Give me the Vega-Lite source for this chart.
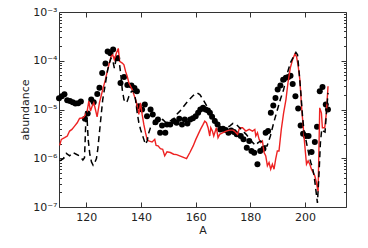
{
"$schema": "https://vega.github.io/schema/vega-lite/v6.json",
"width": 287, "height": 195,
"autosize": {"type": "none"},
"padding": {"left": 59, "top": 12, "right": 22, "bottom": 41},
"background": "white",
"config": {
 "view": {"stroke": "#333", "strokeWidth": 1},
 "axis": {"labelFont": "DejaVu Sans", "titleFont": "DejaVu Sans", "labelFontSize": 11, "titleFontSize": 11, "titleFontWeight": "normal", "labelColor": "#222", "titleColor": "#222", "grid": false, "domain": false, "tickColor": "#333", "tickWidth": 1}
},
"datasets": {
 "dots": [
{"A":110,"v":1.70e-5},{"A":111,"v":1.87e-5},{"A":112,"v":2.06e-5},{"A":113,"v":1.55e-5},{"A":114,"v":1.50e-5},{"A":115,"v":1.41e-5},{"A":116,"v":1.33e-5},{"A":117,"v":1.35e-5},{"A":118,"v":1.46e-5},{"A":119.5,"v":6.45e-6},{"A":120.5,"v":8.3e-6},{"A":121.8,"v":1.60e-5},{"A":122.7,"v":1.41e-5},{"A":124,"v":2.09e-5},{"A":124.8,"v":2.81e-5},{"A":125.8,"v":5.6e-5},{"A":127,"v":8.8e-5},{"A":127.8,"v":1.55e-4},{"A":128.8,"v":1.43e-4},{"A":129.8,"v":1.70e-4},{"A":131.3,"v":1.13e-4},{"A":132.5,"v":3.5e-5},{"A":133.8,"v":4.64e-5},{"A":135,"v":3.19e-5},{"A":136.5,"v":3.09e-5},{"A":137.6,"v":2.77e-5},{"A":138.5,"v":2.37e-5},{"A":139.2,"v":1.17e-5},{"A":140.4,"v":1.0e-5},{"A":141.4,"v":1.26e-5},{"A":142.2,"v":7.3e-6},{"A":143.5,"v":1.0e-5},{"A":144.3,"v":7.9e-6},{"A":145.3,"v":5.5e-6},{"A":146.2,"v":6.25e-6},{"A":147,"v":3.34e-6},{"A":147.7,"v":4.71e-6},{"A":148.9,"v":3.34e-6},{"A":149.5,"v":4.94e-6},{"A":150.7,"v":4.94e-6},{"A":152,"v":5.78e-6},{"A":153,"v":5.35e-6},{"A":154,"v":6.45e-6},{"A":155,"v":4.94e-6},{"A":156,"v":6.25e-6},{"A":157,"v":5.18e-6},{"A":158,"v":6.25e-6},{"A":159,"v":6.65e-6},{"A":160,"v":7.3e-6},{"A":160.9,"v":8.55e-6},{"A":161.7,"v":1.0e-5},{"A":162.7,"v":1.08e-5},{"A":163.6,"v":1.0e-5},{"A":164.5,"v":9.55e-6},{"A":165.2,"v":8.55e-6},{"A":166,"v":7.08e-6},{"A":167,"v":5.78e-6},{"A":168,"v":4.94e-6},{"A":169,"v":3.91e-6},{"A":170,"v":4.03e-6},{"A":171,"v":3.79e-6},{"A":172,"v":3.34e-6},{"A":173,"v":3.73e-6},{"A":174,"v":3.45e-6},{"A":175,"v":3.09e-6},{"A":176.5,"v":2.86e-6},{"A":177.5,"v":2.44e-6},{"A":178.7,"v":1.65e-6},{"A":179.6,"v":2.26e-6},{"A":180.4,"v":1.41e-6},{"A":181.4,"v":1.30e-6},{"A":182.6,"v":7.55e-7},{"A":183.6,"v":1.41e-6},{"A":184.8,"v":1.57e-6},{"A":185.6,"v":3.34e-6},{"A":186.5,"v":3.61e-6},{"A":187.5,"v":8.55e-6},{"A":188.4,"v":1.21e-5},{"A":189.2,"v":1.73e-5},{"A":190,"v":2.56e-5},{"A":191,"v":3.09e-5},{"A":192,"v":4.10e-5},{"A":193,"v":4.50e-5},{"A":193.9,"v":4.64e-5},{"A":194.7,"v":4.94e-5},{"A":195.5,"v":3.34e-5},{"A":196.5,"v":1.87e-5},{"A":197.5,"v":1.05e-5},{"A":198.4,"v":4.71e-6},{"A":199.3,"v":3.19e-6},{"A":200.3,"v":2.86e-6},{"A":201.3,"v":2.86e-6},{"A":202.4,"v":1.35e-6},{"A":203.6,"v":2.15e-6},{"A":204.4,"v":4.43e-6},{"A":205.4,"v":2.37e-5},{"A":206.4,"v":2.90e-5},{"A":207.6,"v":1.26e-5},{"A":208.4,"v":1.0e-5}
 ],
 "red": [
{"A":110.24,"v":1.84e-6},{"A":110.85,"v":2.44e-6},{"A":112.06,"v":2.64e-6},{"A":113.03,"v":2.86e-6},{"A":113.88,"v":3.61e-6},{"A":114.73,"v":3.91e-6},{"A":115.70,"v":4.57e-6},{"A":116.67,"v":5.35e-6},{"A":117.52,"v":6.55e-6},{"A":118.73,"v":6.76e-6},{"A":119.33,"v":7.31e-6},{"A":120.30,"v":9.25e-6},{"A":120.91,"v":1.48e-5},{"A":121.52,"v":9.25e-6},{"A":122.12,"v":1.17e-5},{"A":122.73,"v":1.37e-5},{"A":123.33,"v":1.0e-5},{"A":123.94,"v":7.08e-6},{"A":124.79,"v":1.37e-5},{"A":125.39,"v":1.87e-5},{"A":126.0,"v":2.56e-5},{"A":126.97,"v":4.09e-5},{"A":127.82,"v":6.55e-5},{"A":128.42,"v":8.95e-5},{"A":129.03,"v":1.22e-4},{"A":129.64,"v":1.32e-4},{"A":130.24,"v":1.05e-4},{"A":130.97,"v":1.43e-4},{"A":131.70,"v":1.79e-4},{"A":132.18,"v":9.68e-5},{"A":133.15,"v":8.95e-5},{"A":133.76,"v":8.28e-5},{"A":134.36,"v":6.05e-5},{"A":134.97,"v":4.79e-5},{"A":135.58,"v":3.50e-5},{"A":136.18,"v":2.99e-5},{"A":136.79,"v":2.56e-5},{"A":137.39,"v":2.02e-5},{"A":138.24,"v":1.48e-5},{"A":139.21,"v":7.91e-6},{"A":139.82,"v":1.37e-5},{"A":140.42,"v":7.91e-6},{"A":141.03,"v":4.94e-6},{"A":141.64,"v":3.34e-6},{"A":142.24,"v":2.44e-6},{"A":142.85,"v":2.26e-6},{"A":144.06,"v":2.15e-6},{"A":145.03,"v":2.44e-6},{"A":145.52,"v":1.84e-6},{"A":146.24,"v":1.79e-6},{"A":147.09,"v":1.57e-6},{"A":147.94,"v":1.53e-6},{"A":148.67,"v":1.12e-6},{"A":149.52,"v":1.35e-6},{"A":150.73,"v":1.31e-6},{"A":151.94,"v":1.21e-6},{"A":153.03,"v":1.19e-6},{"A":154.85,"v":1.08e-6},{"A":156.67,"v":9.84e-7},{"A":157.88,"v":1.31e-6},{"A":159.09,"v":1.79e-6},{"A":160.06,"v":2.44e-6},{"A":160.91,"v":3.09e-6},{"A":161.76,"v":3.91e-6},{"A":162.73,"v":4.94e-6},{"A":163.33,"v":5.78e-6},{"A":163.94,"v":5.35e-6},{"A":164.55,"v":4.23e-6},{"A":165.15,"v":2.86e-6},{"A":165.52,"v":4.23e-6},{"A":166.12,"v":3.61e-6},{"A":166.61,"v":2.86e-6},{"A":167.58,"v":4.23e-6},{"A":168.18,"v":2.64e-6},{"A":168.79,"v":3.09e-6},{"A":170.0,"v":3.34e-6},{"A":171.21,"v":3.61e-6},{"A":172.42,"v":3.78e-6},{"A":173.64,"v":3.78e-6},{"A":174.12,"v":3.61e-6},{"A":175.33,"v":3.09e-6},{"A":176.06,"v":4.23e-6},{"A":177.15,"v":4.23e-6},{"A":178.36,"v":3.61e-6},{"A":179.58,"v":3.91e-6},{"A":180.79,"v":3.61e-6},{"A":181.64,"v":3.91e-6},{"A":182.0,"v":2.86e-6},{"A":182.61,"v":3.34e-6},{"A":183.21,"v":2.44e-6},{"A":183.82,"v":2.09e-6},{"A":184.42,"v":2.26e-6},{"A":185.03,"v":1.31e-6},{"A":185.64,"v":1.12e-6},{"A":186.24,"v":6.98e-7},{"A":186.85,"v":8.17e-7},{"A":187.45,"v":5.97e-7},{"A":188.06,"v":7.55e-7},{"A":188.67,"v":5.97e-7},{"A":189.27,"v":9.55e-7},{"A":189.88,"v":1.41e-6},{"A":190.48,"v":1.41e-6},{"A":191.33,"v":3.91e-6},{"A":192.18,"v":8.55e-6},{"A":193.03,"v":1.60e-5},{"A":193.76,"v":3.50e-5},{"A":194.61,"v":7.08e-5},{"A":195.45,"v":1.05e-4},{"A":196.30,"v":1.37e-4},{"A":196.91,"v":1.22e-4},{"A":197.52,"v":7.66e-5},{"A":198.12,"v":4.09e-5},{"A":198.73,"v":1.17e-5},{"A":199.33,"v":4.57e-6},{"A":199.94,"v":1.79e-6},{"A":200.55,"v":7.55e-7},{"A":201.15,"v":8.83e-7},{"A":201.76,"v":7.55e-7},{"A":202.36,"v":5.97e-7},{"A":202.97,"v":5.09e-7},{"A":203.58,"v":4.36e-7},{"A":204.18,"v":3.18e-7},{"A":204.79,"v":2.06e-7},{"A":205.39,"v":1.08e-5},{"A":206.0,"v":8.55e-6},{"A":206.36,"v":4.23e-6},{"A":207.21,"v":4.23e-6},{"A":207.82,"v":8.55e-6},{"A":208.42,"v":2.99e-5}
 ],
 "dashed": [
{"A":110.24,"v":8.83e-7},{"A":111.58,"v":9.84e-7},{"A":112.67,"v":1.26e-6},{"A":113.88,"v":1.12e-6},{"A":115.09,"v":1.31e-6},{"A":116.30,"v":1.21e-6},{"A":117.52,"v":1.12e-6},{"A":118.73,"v":9.25e-7},{"A":119.33,"v":1.03e-6},{"A":119.58,"v":2.44e-6},{"A":119.94,"v":9.25e-6},{"A":120.30,"v":6.25e-6},{"A":120.67,"v":2.44e-6},{"A":121.27,"v":1.21e-6},{"A":121.88,"v":8.41e-7},{"A":122.48,"v":7.19e-7},{"A":123.09,"v":8.17e-7},{"A":123.70,"v":9.84e-7},{"A":124.18,"v":1.53e-6},{"A":124.79,"v":3.34e-6},{"A":125.39,"v":7.31e-6},{"A":126.0,"v":1.60e-5},{"A":126.61,"v":2.56e-5},{"A":127.21,"v":4.09e-5},{"A":127.82,"v":6.55e-5},{"A":128.42,"v":8.95e-5},{"A":129.03,"v":1.13e-4},{"A":129.64,"v":1.05e-4},{"A":130.24,"v":7.08e-5},{"A":130.97,"v":1.13e-4},{"A":131.58,"v":1.32e-4},{"A":131.94,"v":1.05e-4},{"A":132.55,"v":5.6e-5},{"A":133.15,"v":2.56e-5},{"A":133.76,"v":1.60e-5},{"A":134.36,"v":1.37e-5},{"A":134.97,"v":1.48e-5},{"A":135.58,"v":1.87e-5},{"A":136.55,"v":2.37e-5},{"A":137.39,"v":2.37e-5},{"A":138.0,"v":1.60e-5},{"A":138.61,"v":8.55e-6},{"A":139.21,"v":5.35e-6},{"A":139.82,"v":3.91e-6},{"A":140.42,"v":3.09e-6},{"A":141.03,"v":2.44e-6},{"A":141.64,"v":1.93e-6},{"A":142.24,"v":2.26e-6},{"A":142.85,"v":3.34e-6},{"A":143.45,"v":4.23e-6},{"A":144.30,"v":4.94e-6},{"A":145.27,"v":5.35e-6},{"A":146.48,"v":5.78e-6},{"A":147.94,"v":6.25e-6},{"A":149.15,"v":5.35e-6},{"A":150.36,"v":5.78e-6},{"A":151.82,"v":6.25e-6},{"A":153.03,"v":7.91e-6},{"A":154.24,"v":9.25e-6},{"A":155.45,"v":1.13e-5},{"A":156.67,"v":1.37e-5},{"A":157.88,"v":1.65e-5},{"A":159.09,"v":1.93e-5},{"A":160.55,"v":2.19e-5},{"A":161.52,"v":2.02e-5},{"A":162.73,"v":1.60e-5},{"A":163.94,"v":1.21e-5},{"A":165.15,"v":9.25e-6},{"A":166.36,"v":7.31e-6},{"A":167.58,"v":5.78e-6},{"A":168.79,"v":4.57e-6},{"A":170.0,"v":4.03e-6},{"A":171.21,"v":4.23e-6},{"A":172.42,"v":4.57e-6},{"A":173.64,"v":5.18e-6},{"A":174.85,"v":4.94e-6},{"A":176.06,"v":4.23e-6},{"A":177.27,"v":3.61e-6},{"A":178.48,"v":3.09e-6},{"A":179.70,"v":2.52e-6},{"A":180.91,"v":2.09e-6},{"A":181.88,"v":1.84e-6},{"A":182.85,"v":2.09e-6},{"A":183.82,"v":2.26e-6},{"A":185.03,"v":1.79e-6},{"A":186.12,"v":1.79e-6},{"A":187.33,"v":2.86e-6},{"A":188.55,"v":5.35e-6},{"A":189.76,"v":9.25e-6},{"A":190.97,"v":1.60e-5},{"A":192.18,"v":2.56e-5},{"A":193.39,"v":5.18e-5},{"A":194.61,"v":8.95e-5},{"A":195.82,"v":1.22e-4},{"A":196.67,"v":1.48e-4},{"A":197.27,"v":1.32e-4},{"A":197.88,"v":5.6e-5},{"A":198.48,"v":2.19e-5},{"A":199.09,"v":7.31e-6},{"A":199.70,"v":3.34e-6},{"A":200.30,"v":2.44e-6},{"A":200.91,"v":1.65e-6},{"A":201.52,"v":1.12e-6},{"A":202.12,"v":8.17e-7},{"A":202.73,"v":6.46e-7},{"A":203.33,"v":4.36e-7},{"A":203.94,"v":2.33e-7},{"A":204.55,"v":1.21e-7},{"A":205.15,"v":5.09e-7},{"A":205.64,"v":2.09e-6},{"A":206.12,"v":3.91e-6},{"A":206.73,"v":3.61e-6},{"A":207.33,"v":3.45e-6},{"A":207.94,"v":1.0e-5},{"A":208.42,"v":2.19e-5}
 ]
},
"layer": [
 {
  "data": {"name": "dots"},
  "mark": {"type": "point", "filled": true, "size": 36, "color": "black", "opacity": 1},
  "encoding": {
   "x": {"field": "A", "type": "quantitative", "scale": {"domain": [110, 215], "nice": false, "zero": false},
         "axis": {"orient": "bottom", "values": [120, 140, 160, 180, 200], "tickSize": -5, "labelPadding": 9, "title": "A", "titlePadding": 2}},
   "y": {"field": "v", "type": "quantitative", "scale": {"type": "log", "domain": [1e-7, 1e-3], "nice": false},
         "axis": {"orient": "left", "values": [1e-7, 1e-6, 1e-5, 1e-4, 1e-3], "tickSize": -5, "labelPadding": 7, "title": "abundance", "titlePadding": 2,
                  "labelExpr": "datum.value > 5e-4 ? '10⁻³' : datum.value > 5e-5 ? '10⁻⁴' : datum.value > 5e-6 ? '10⁻⁵' : datum.value > 5e-7 ? '10⁻⁶' : '10⁻⁷'"}}
  }
 },
 {
  "data": {"name": "red"},
  "mark": {"type": "line", "color": "#ee2222", "strokeWidth": 1.4},
  "encoding": {
   "x": {"field": "A", "type": "quantitative", "axis": {"orient": "top", "values": [120, 140, 160, 180, 200], "tickSize": -5, "labels": false, "title": null}},
   "y": {"field": "v", "type": "quantitative", "axis": {"orient": "right", "values": [1e-7, 1e-6, 1e-5, 1e-4, 1e-3], "tickSize": -5, "labels": false, "title": null}}
  }
 },
 {
  "data": {"name": "dashed"},
  "mark": {"type": "line", "color": "black", "strokeWidth": 1.5, "strokeDash": [6, 4]},
  "encoding": {
   "x": {"field": "A", "type": "quantitative", "axis": null},
   "y": {"field": "v", "type": "quantitative", "axis": {"orient": "left", "labels": false, "title": null, "tickSize": -2.5,
      "values": [2e-7,3e-7,4e-7,5e-7,6e-7,7e-7,8e-7,9e-7,2e-6,3e-6,4e-6,5e-6,6e-6,7e-6,8e-6,9e-6,2e-5,3e-5,4e-5,5e-5,6e-5,7e-5,8e-5,9e-5,2e-4,3e-4,4e-4,5e-4,6e-4,7e-4,8e-4,9e-4]}}
  }
 },
 {
  "data": {"name": "dots"},
  "mark": {"type": "point", "opacity": 0},
  "encoding": {
   "x": {"field": "A", "type": "quantitative", "axis": null},
   "y": {"field": "v", "type": "quantitative", "axis": {"orient": "right", "labels": false, "title": null, "tickSize": -2.5,
      "values": [2e-7,3e-7,4e-7,5e-7,6e-7,7e-7,8e-7,9e-7,2e-6,3e-6,4e-6,5e-6,6e-6,7e-6,8e-6,9e-6,2e-5,3e-5,4e-5,5e-5,6e-5,7e-5,8e-5,9e-5,2e-4,3e-4,4e-4,5e-4,6e-4,7e-4,8e-4,9e-4]}}
  }
 }
],
"resolve": {"axis": {"x": "independent", "y": "independent"}}
}
